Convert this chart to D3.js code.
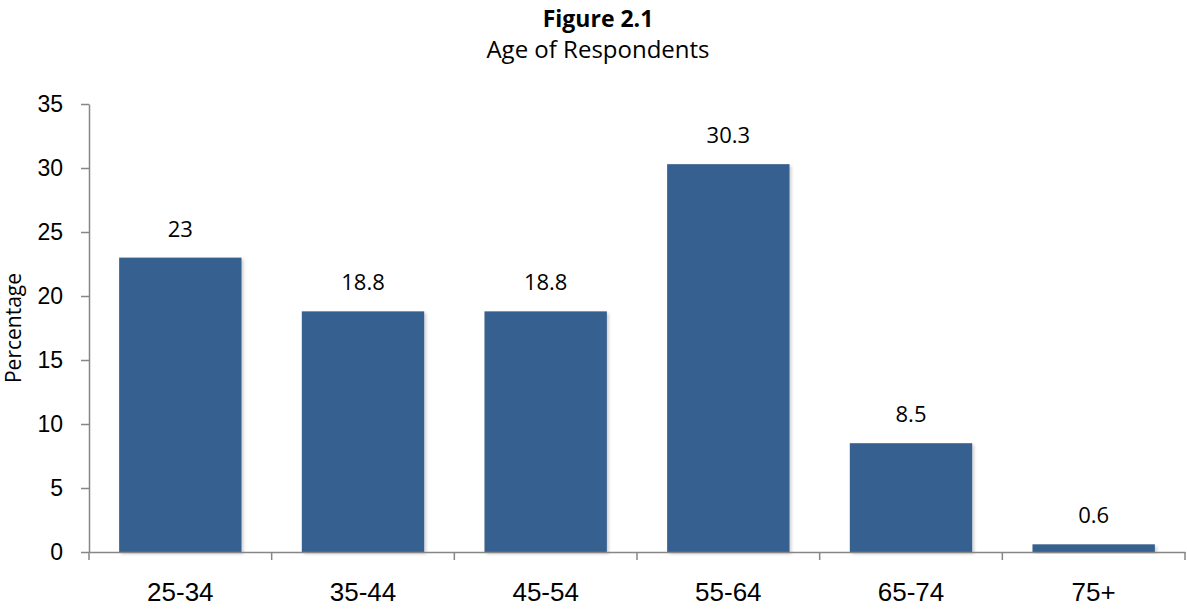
<!DOCTYPE html>
<html>
<head>
<meta charset="utf-8">
<script src="https://cdn.jsdelivr.net/npm/d3@7"></script>
<style>
  body { margin: 0; background: #fff; }
</style>
</head>
<body>
<div id="container"></div>
<script>
var width = 1187,
    height = 609;

var ageGroups = ["25-34", "35-44", "45-54", "55-64", "65-74", "75+"];
var percents = [23, 18.8, 18.8, 30.3, 8.5, 0.6];
var yTicks = [0, 5, 10, 15, 20, 25, 30, 35];

var margin = {top: 104, right: 2, bottom: 57, left: 89};

var svg = d3.select("#container").append("svg")
    .attr("width", width)
    .attr("height", height);

var defs = svg.append("defs");
var shadow = defs.append("filter").attr("id", "shadow")
    .attr("x", "-10%").attr("y", "-10%").attr("width", "130%").attr("height", "130%");
shadow.append("feDropShadow")
    .attr("dx", 2).attr("dy", 2).attr("stdDeviation", 1.5)
    .attr("flood-color", "#000").attr("flood-opacity", 0.18);

var x = d3.scaleBand()
    .domain(ageGroups)
    .range([margin.left, width - margin.right])
    .paddingInner(0.33)
    .paddingOuter(0.165);

var y = d3.scaleLinear()
    .domain([0, 35])
    .range([height - margin.bottom, margin.top]);

var labelFont = "'Open Sans', Lato, sans-serif";

// title
svg.append("text")
    .attr("x", 598).attr("y", 27)
    .attr("text-anchor", "middle")
    .style("font-family", labelFont)
    .style("font-size", "23px")
    .style("font-weight", "bold")
    .text("Figure 2.1");
svg.append("text")
    .attr("x", 598).attr("y", 58)
    .attr("text-anchor", "middle")
    .style("font-family", labelFont)
    .style("font-size", "24px")
    .text("Age of Respondents");

// bars
svg.selectAll(".bar")
    .data(percents)
    .enter().append("rect")
    .attr("class", "bar")
    .attr("x", (d, i) => x(ageGroups[i]))
    .attr("y", d => y(d))
    .attr("width", x.bandwidth())
    .attr("height", d => y(0) - y(d))
    .attr("fill", "#36608f")
    .attr("filter", "url(#shadow)");

// value labels
svg.selectAll(".lbl")
    .data(percents)
    .enter().append("text")
    .attr("class", "lbl")
    .attr("x", (d, i) => x(ageGroups[i]) + x.bandwidth() / 2)
    .attr("y", d => y(d) - 21)
    .attr("text-anchor", "middle")
    .style("font-family", labelFont)
    .style("font-size", "22px")
    .text(d => d);

// y axis
var yAxis = svg.append("g")
    .attr("transform", "translate(" + margin.left + ",0)")
    .call(d3.axisLeft(y).tickValues(yTicks).tickSize(8).tickPadding(18).tickSizeOuter(0));
yAxis.select(".domain").attr("stroke", "#868686").attr("stroke-width", 1.5);
yAxis.selectAll(".tick line").attr("stroke", "#868686").attr("stroke-width", 1.5);
yAxis.selectAll(".tick text")
    .style("font-family", "'Liberation Sans', Arial, sans-serif")
    .style("font-size", "23px")
    .attr("fill", "#000");

// x axis
var xAxis = svg.append("g")
    .attr("transform", "translate(0," + y(0) + ")")
    .call(d3.axisBottom(x).tickSize(0).tickPadding(31));
xAxis.select(".domain").attr("stroke", "#868686").attr("stroke-width", 1.5);
xAxis.selectAll(".tick text")
    .style("font-family", "'Liberation Sans', Arial, sans-serif")
    .style("font-size", "26px")
    .attr("fill", "#000");

// category boundary ticks
var bounds = d3.range(ageGroups.length + 1).map(i => margin.left + i * (width - margin.right - margin.left) / ageGroups.length);
svg.selectAll(".xt")
    .data(bounds)
    .enter().append("line")
    .attr("x1", d => d).attr("x2", d => d)
    .attr("y1", y(0)).attr("y2", y(0) + 8)
    .attr("stroke", "#868686").attr("stroke-width", 1.5);

// y label
svg.append("text")
    .attr("transform", "translate(21," + (y(0) + y(35)) / 2 + ") rotate(-90)")
    .attr("text-anchor", "middle")
    .style("font-family", labelFont)
    .style("font-size", "21px")
    .text("Percentage");
</script>
</body>
</html>
